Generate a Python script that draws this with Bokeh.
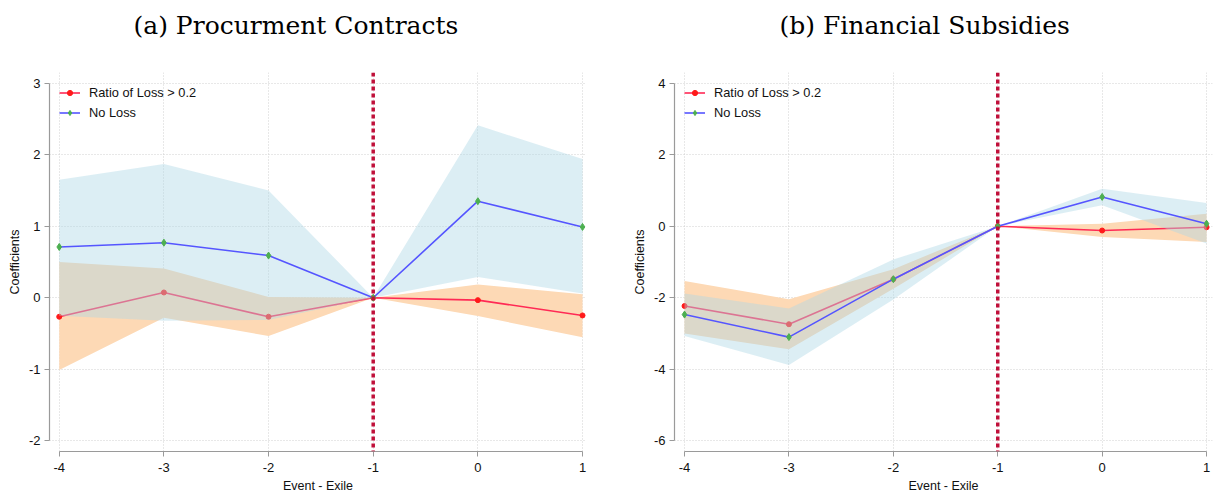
from bokeh.plotting import figure
from bokeh.layouts import row
from bokeh.models import FixedTicker, Span, Range1d, Title, CustomJSTickFormatter
from bokeh.embed import file_html
from bokeh.resources import INLINE

periods = [-4, -3, -2, -1, 0, 1]

# (a) Procurement Contracts
a_loss_coef = [-0.265, 0.074, -0.265, 0.0, -0.033, -0.247]
a_loss_lo = [-1.01, -0.28, -0.535, 0.0, -0.256, -0.553]
a_loss_hi = [0.50, 0.41, 0.01, 0.0, 0.186, 0.05]
a_none_coef = [0.71, 0.77, 0.59, 0.0, 1.35, 0.99]
a_none_lo = [-0.25, -0.32, -0.31, 0.0, 0.29, 0.06]
a_none_hi = [1.65, 1.87, 1.50, 0.0, 2.41, 1.94]

# (b) Financial Subsidies
b_loss_coef = [-2.23, -2.74, -1.48, 0.0, -0.12, -0.03]
b_loss_lo = [-3.0, -3.44, -1.75, 0.0, -0.30, -0.44]
b_loss_hi = [-1.53, -2.04, -1.20, 0.0, 0.07, 0.35]
b_none_coef = [-2.47, -3.10, -1.48, 0.0, 0.82, 0.07]
b_none_lo = [-3.07, -3.88, -2.05, 0.0, 0.59, -0.48]
b_none_hi = [-1.88, -2.30, -0.93, 0.0, 1.05, 0.65]

a_yticks = [-2, -1, 0, 1, 2, 3]
b_yticks = [-6, -4, -2, 0, 2, 4]
titles = ["(a) Procurment Contracts", "(b) Financial Subsidies"]
legend_labels = ["Ratio of Loss > 0.2", "No Loss"]
x_label = "Event - Exile"
y_label = "Coefficients"

SANS = "Liberation Sans"
HYPHEN_FMT = "return String(tick);"


def make_panel(title, loss_c, loss_lo, loss_hi, none_c, none_lo, none_hi,
               yticks, xr, yr, border_left, border_right, title_offset):
    p = figure(width=607, height=495, output_backend="svg", toolbar_location=None,
               x_range=Range1d(*xr), y_range=Range1d(*yr),
               min_border_left=border_left, min_border_right=border_right,
               min_border_top=72, min_border_bottom=43)
    p.outline_line_color = None
    p.background_fill_color = "white"
    p.border_fill_color = "white"

    # spacer panel between frame and the title, then the title itself
    p.add_layout(Title(text=" ", text_font_size="10px", standoff=12), "above")
    p.add_layout(Title(text=title, align="left", vertical_align="top",
                       text_font="DejaVu Serif", text_font_size="25px",
                       text_font_style="normal", text_color="#000000",
                       standoff=12, offset=title_offset), "above")

    # bands and lines
    p.varea(x=periods, y1=loss_lo, y2=loss_hi, fill_color="#fdd9b5", fill_alpha=1.0)
    p.line(periods, loss_c, line_color="#ff2a55", line_width=1.6,
           legend_label=legend_labels[0])
    p.scatter(periods, loss_c, marker="circle", size=5, fill_color="#ff1a1a",
              line_color="#ff1a1a", legend_label=legend_labels[0])
    p.varea(x=periods, y1=none_lo, y2=none_hi, fill_color="#add8e6", fill_alpha=0.43)
    p.line(periods, none_c, line_color="#5555ff", line_width=1.6,
           legend_label=legend_labels[1])
    p.scatter(periods, none_c, marker="diamond", size=7, fill_color="#4caf50",
              line_color="#4caf50", legend_label=legend_labels[1])

    p.add_layout(Span(location=-1, dimension="height", line_color="#c0103a",
                      line_width=3.5, line_dash="4 3"))

    # axes
    p.xaxis.ticker = FixedTicker(ticks=periods)
    p.yaxis.ticker = FixedTicker(ticks=yticks)
    p.xaxis.formatter = CustomJSTickFormatter(code=HYPHEN_FMT)
    p.yaxis.formatter = CustomJSTickFormatter(code=HYPHEN_FMT)
    p.xaxis.bounds = (periods[0], periods[-1])
    p.yaxis.bounds = (yticks[0], yticks[-1])
    for ax in (p.xaxis[0], p.yaxis[0]):
        ax.axis_line_color = "#9a9a9a"
        ax.axis_line_width = 1.2
        ax.major_tick_line_color = "#9a9a9a"
        ax.major_tick_out = 5
        ax.major_tick_in = 0
        ax.minor_tick_line_color = None
        ax.major_label_text_font = SANS
        ax.major_label_text_font_size = "13px"
        ax.major_label_text_color = "#111111"
        ax.axis_label_text_font = SANS
        ax.axis_label_text_font_size = "12.5px"
        ax.axis_label_text_font_style = "normal"
        ax.axis_label_text_color = "#111111"
    p.xaxis.axis_label = x_label
    p.yaxis.axis_label = y_label
    p.xaxis.major_label_standoff = 6
    p.yaxis.major_label_standoff = 4
    p.xaxis.axis_label_standoff = 4
    p.yaxis.axis_label_standoff = 4

    for g in (p.xgrid[0], p.ygrid[0]):
        g.grid_line_color = "#d0d0d0"
        g.grid_line_dash = "1 2"
        g.grid_line_width = 1
    p.xgrid.ticker = FixedTicker(ticks=periods)
    p.ygrid.ticker = FixedTicker(ticks=yticks)

    lg = p.legend[0]
    lg.location = "top_left"
    lg.margin = 0
    lg.padding = 10
    lg.spacing = 0
    lg.glyph_width = 21
    lg.glyph_height = 13
    lg.label_height = 20
    lg.label_standoff = 9
    lg.label_text_font = SANS
    lg.label_text_font_size = "12.8px"
    lg.label_text_color = "#111111"
    lg.background_fill_alpha = 0
    lg.border_line_alpha = 0
    return p


p1 = make_panel(titles[0], a_loss_coef, a_loss_lo, a_loss_hi, a_none_coef, a_none_lo, a_none_hi,
                a_yticks, (-4.093, 1.038), (-2.149, 3.149), 49, 21, 84)
p2 = make_panel(titles[1], b_loss_coef, b_loss_lo, b_loss_hi, b_none_coef, b_none_lo, b_none_hi,
                b_yticks, (-4.096, 1.057), (-6.299, 4.299), 67, 2, 105)

layout = row(p1, p2)
open("out.html", "w").write(file_html(layout, INLINE))
